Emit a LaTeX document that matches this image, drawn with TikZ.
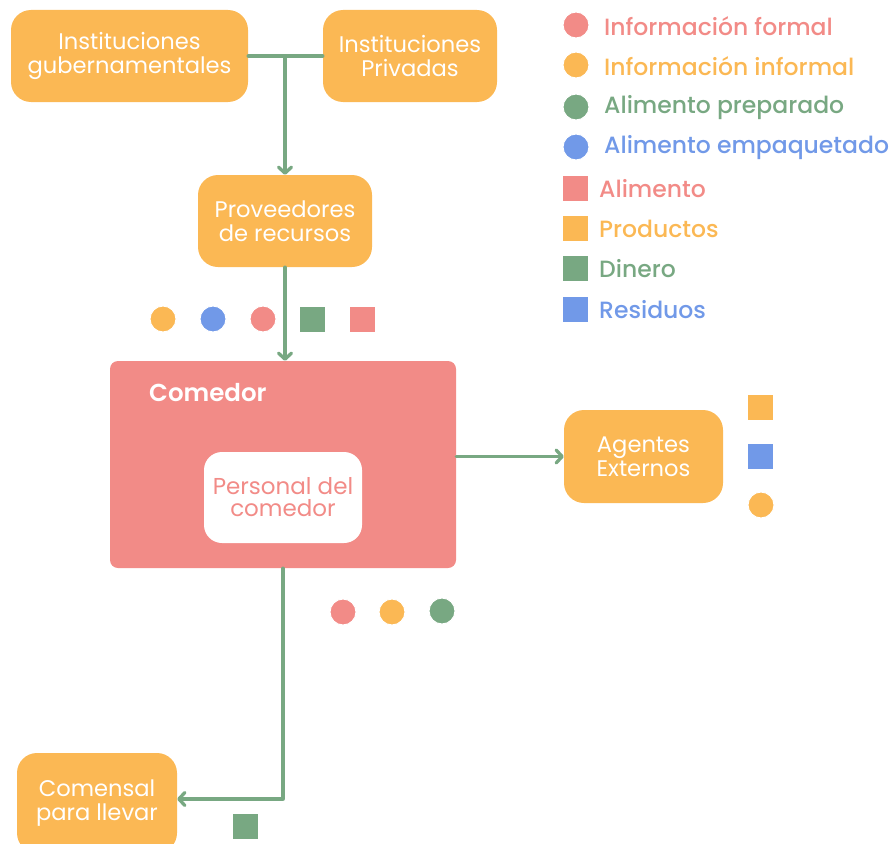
\documentclass[tikz,border=0pt]{standalone}
\usepackage{fontspec}
\setmainfont{Poppins}
\newfontfamily\medfont{Poppins Medium}
\newfontfamily\boldfont{Poppins SemiBold}
\usetikzlibrary{arrows.meta}
\definecolor{orng}{HTML}{FBB854}
\definecolor{salmon}{HTML}{F28B87}
\definecolor{grn}{HTML}{78A882}
\definecolor{blu}{HTML}{7199E8}
\begin{document}
\begin{tikzpicture}[x=1pt,y=-1pt,
  box/.style={fill=orng, rounded corners=20pt, text=white, align=center,
    font=\fontsize{22.6}{24}\selectfont, inner sep=0pt},
  flow/.style={draw=grn, line width=3.3pt, line cap=round, line join=round},
  arr/.style={-{Straight Barb[length=6pt,width=13pt,round]}},
  dot/.style={circle, draw=white, line width=1pt, minimum size=26pt, inner sep=0pt},
  sq/.style={rectangle, draw=white, line width=1pt, minimum size=26pt, inner sep=0pt},
  legtext/.style={anchor=west, inner sep=0pt, font=\medfont\fontsize{23.5}{26}\selectfont}]
\useasboundingbox (0,0) rectangle (896,843);

% organisations
\node[box, minimum width=237pt, minimum height=92pt] (gov) at (129.5,56) {Instituciones\\gubernamentales};
\node[box, minimum width=174pt, minimum height=92pt] (priv) at (410,56) {Instituciones\\Privadas};
\node[box, minimum width=174pt, minimum height=92pt] (prov) at (285,221) {Proveedores\\de recursos};

% dining hall
\node[fill=salmon, rounded corners=8pt, minimum width=346pt, minimum height=207pt, inner sep=0pt] (com) at (283,464.5) {};
\node[anchor=west, inner sep=0pt, text=white, font=\boldfont\fontsize{24.5}{26}\selectfont] (comlbl) at (149,393) {Comedor};
\node[fill=white, rounded corners=18pt, minimum width=158pt, minimum height=91pt, inner sep=0pt,
  text=salmon, align=center, font=\fontsize{23}{22}\selectfont] (pers) at (283,497.5) {Personal del\\comedor};

\node[box, minimum width=159pt, minimum height=93pt] (ag) at (643.5,456.5) {Agentes\\Externos};
\node[box, minimum width=160pt, minimum height=100pt] (cm) at (97,803) {Comensal\\para llevar};

% connectors
\coordinate (j) at (gov.east -| prov.north);
\draw[flow] (gov.east) -- (priv.west);
\draw[flow, arr] (j) -- (prov.north);
\draw[flow, arr] (prov.south) -- (prov.south |- com.north);
\draw[flow, arr] (ag.west -| com.east) -- (ag.west);
\coordinate (k) at (283,799);
\draw[flow, arr] (com.south) -- (k) -- (k -| cm.east);

% items flowing in from suppliers
\node[dot, fill=orng] (a1) at (163,319) {};
\node[dot, fill=blu] (a2) at (213,319) {};
\node[dot, fill=salmon] (a3) at (263,319) {};
\node[sq, fill=grn] (a4) at (312,319.5) {};
\node[sq, fill=salmon] (a5) at (362,319.5) {};

% items towards external agents
\node[sq, fill=orng] (b1) at (760.5,407) {};
\node[sq, fill=blu] (b2) at (760.5,456) {};
\node[dot, fill=orng] (b3) at (761,505) {};

% items towards take-away diners
\node[dot, fill=salmon] (c1) at (343,612) {};
\node[dot, fill=orng] (c2) at (392,612) {};
\node[dot, fill=grn] (c3) at (442,611) {};
\node[sq, fill=grn] (c4) at (245.5,826) {};

% legend
\node[dot, fill=salmon] (l1) at (576,25) {};
\node[dot, fill=orng] (l2) at (576,65) {};
\node[dot, fill=grn] (l3) at (576,107) {};
\node[dot, fill=blu] (l4) at (576,147) {};
\node[sq, fill=salmon] (l5) at (575.5,188) {};
\node[sq, fill=orng] (l6) at (575.5,228) {};
\node[sq, fill=grn] (l7) at (575.5,268) {};
\node[sq, fill=blu] (l8) at (575.5,309) {};
\node[legtext, text=salmon] (t1) at (604,26) {Información formal};
\node[legtext, text=orng] (t2) at (604,66) {Información informal};
\node[legtext, text=grn] (t3) at (604,108) {Alimento preparado};
\node[legtext, text=blu] (t4) at (604,148) {Alimento empaquetado};
\node[legtext, text=salmon] (t5) at (599,189) {Alimento};
\node[legtext, text=orng] (t6) at (599,229) {Productos};
\node[legtext, text=grn] (t7) at (599,269) {Dinero};
\node[legtext, text=blu] (t8) at (599,310) {Residuos};
\end{tikzpicture}
\end{document}
